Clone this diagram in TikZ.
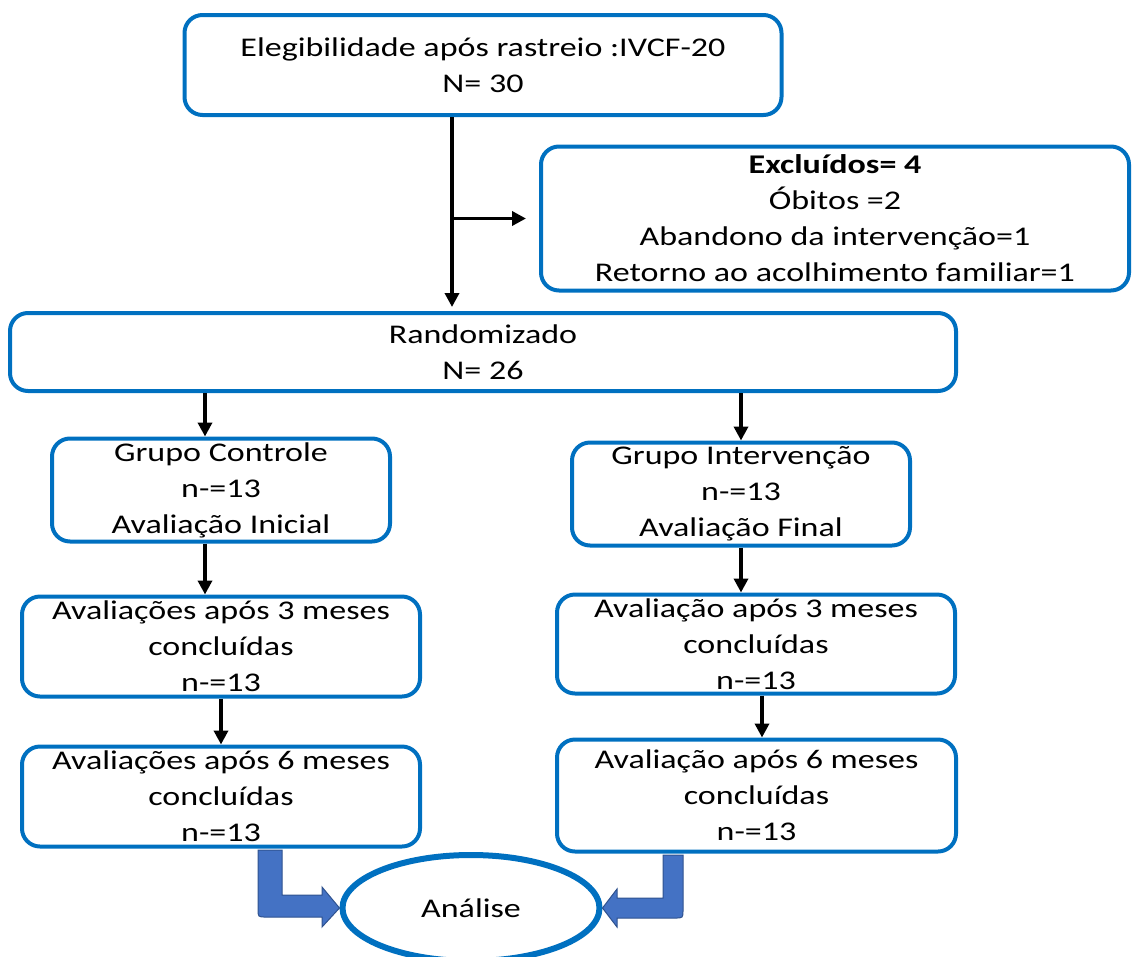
\documentclass[tikz,border=0pt]{standalone}
\usepackage{fontspec}
\setmainfont{Carlito}[FakeStretch=1.26]
\usetikzlibrary{arrows.meta,shapes.geometric}
\definecolor{boxblue}{HTML}{0070C0}
\definecolor{fillblue}{HTML}{4472C4}
\definecolor{edgeblue}{HTML}{2F528F}

\begin{document}
\begin{tikzpicture}[x=1pt,y=-1pt,
  box/.style={draw=boxblue, line width=4pt, rounded corners=18pt, align=center,
    inner sep=0pt, font=\fontsize{27}{36}\selectfont},
  flow/.style={line width=3.5pt, -{Triangle[length=14pt,width=14pt]}},
  block/.style={fill=fillblue, draw=edgeblue, line width=1pt, line join=miter},
]
\useasboundingbox (0,0) rectangle (1132,956);

% boxes
\node[box, minimum width=597pt, minimum height=100pt] (elig) at (483,65)
  {Elegibilidade após rastreio :IVCF-20\\N= 30};
\node[box, minimum width=588pt, minimum height=144pt] (excl) at (835,218.5)
  {\textbf{Excluídos= 4}\\Óbitos =2\\Abandono da intervenção=1\\Retorno ao acolhimento familiar=1};
\node[box, minimum width=946pt, minimum height=78pt] (rand) at (483,352)
  {Randomizado\\N= 26};
\node[box, minimum width=338pt, minimum height=103pt] (gc) at (221,490)
  {Grupo Controle\\n-=13\\Avaliação Inicial};
\node[box, minimum width=338pt, minimum height=103pt] (gi) at (741,494)
  {Grupo Intervenção\\n-=13\\Avaliação Final};
\node[box, minimum width=398pt, minimum height=100pt] (l3) at (221,646.5)
  {Avaliações após 3 meses\\concluídas\\n-=13};
\node[box, minimum width=398pt, minimum height=99pt] (r3) at (756,644)
  {Avaliação após 3 meses\\concluídas\\n-=13};
\node[box, minimum width=398pt, minimum height=100pt] (l6) at (221,796.5)
  {Avaliações após 6 meses\\concluídas\\n-=13};
\node[box, minimum width=399pt, minimum height=112pt] (r6) at (756.5,795.5)
  {Avaliação após 6 meses\\concluídas\\n-=13};
\node[ellipse, draw=boxblue, line width=6pt, minimum width=257pt, minimum height=106pt,
  inner sep=0pt, font=\fontsize{27}{36}\selectfont] (ana) at (471,908) {Análise};

% connectors
\draw[flow, shorten >=4pt] ([xshift=-31pt]elig.south) -- ([xshift=-31pt]elig.south |- rand.north);
\coordinate (br) at ([xshift=-31pt]elig.south |- excl.west);
\draw[flow, shorten >=13pt] (br) -- (excl.west);
\draw[flow] ([xshift=-16pt]gc.north |- rand.south) -- ([xshift=-16pt]gc.north);
\draw[flow] (gi.north |- rand.south) -- (gi.north);
\draw[flow] ([xshift=-16pt]l3.north |- gc.south) -- ([xshift=-16pt]l3.north);
\draw[flow] (gi.south) -- (gi.south |- r3.north);
\draw[flow] (l3.south) -- (l6.north);
\draw[flow] ([xshift=6pt]r3.south) -- ([xshift=6pt]r3.south |- r6.north);

% bent block arrows into the analysis ellipse
\draw[block] (258,850) -- (258,909) .. controls (258,917) .. (266,917) -- (322,917)
  -- (322,927) -- (ana.west) -- (322,887) -- (322,895) -- (282,895) -- (282,850) -- cycle;
\draw[block] (683,855) -- (683,910) .. controls (683,918) .. (675,918) -- (617,918)
  -- (617,927) -- (ana.east) -- (617,889) -- (617,898) -- (663,898) -- (663,855) -- cycle;
\end{tikzpicture}
\end{document}
